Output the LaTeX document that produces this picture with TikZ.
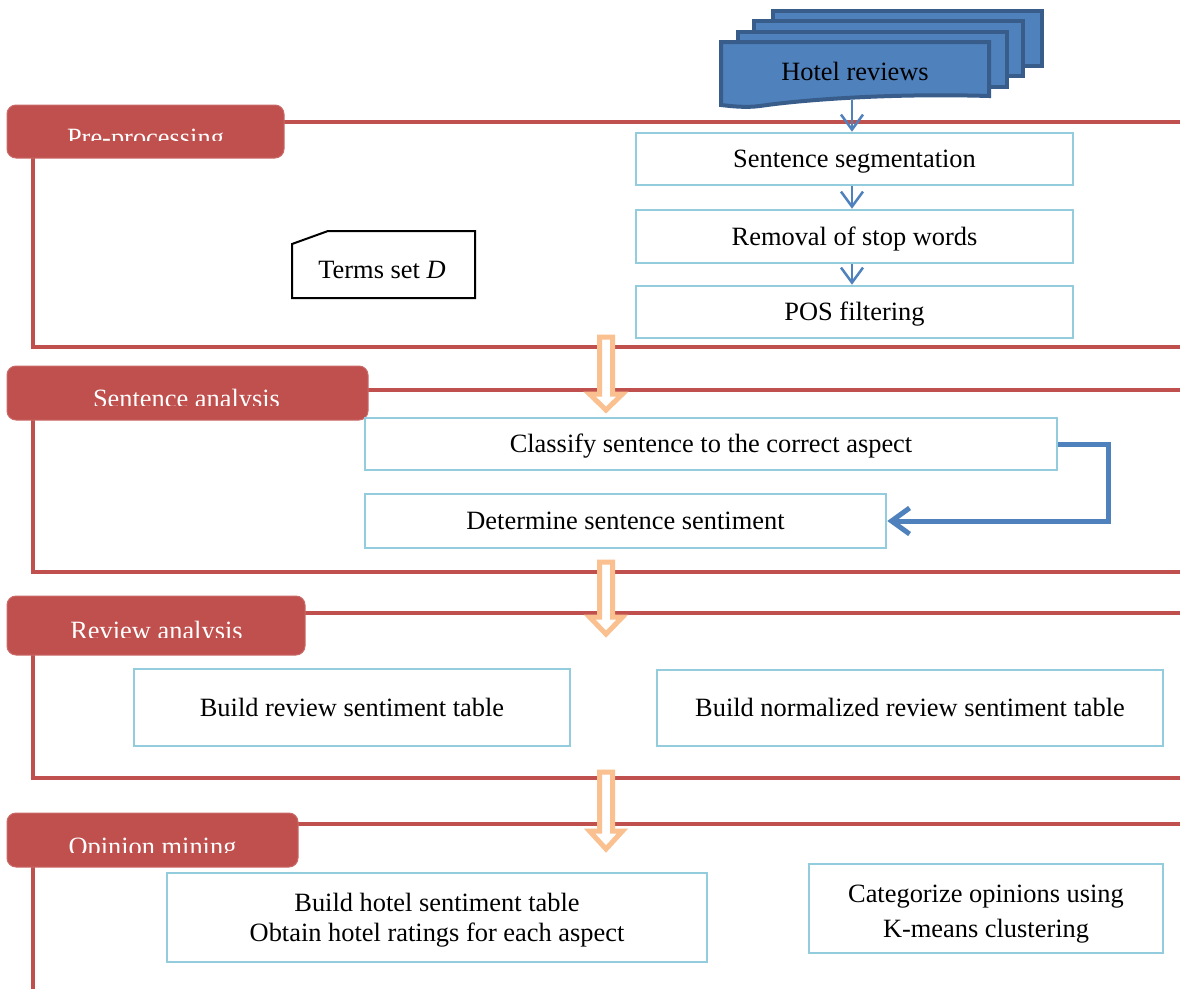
\documentclass[tikz,border=0pt]{standalone}
\usepackage{fontspec}
\setmainfont{Liberation Serif}
\usetikzlibrary{arrows.meta}
\definecolor{redc}{HTML}{C0504D}
\definecolor{bluefill}{HTML}{4F81BD}
\definecolor{blueline}{HTML}{385D8A}
\definecolor{boxline}{HTML}{93CDDD}
\definecolor{orangec}{HTML}{FAC090}
\tikzset{
  frame/.style={draw=redc, line width=4.5pt, miter limit=10},
  tab/.style={fill=redc, draw=redc!85!white, line width=1pt, rounded corners=9pt, inner sep=0pt},
  tabtext/.style={text=white, font=\fontsize{26.4}{30}\selectfont, inner sep=0pt},
  procbox/.style={draw=boxline, line width=2.6pt, fill=white, inner sep=0pt, align=center,
     font=\fontsize{26.4}{31}\selectfont},
  oneline/.style={text height=21pt, text depth=4pt},
  sheet/.style={fill=bluefill, draw=blueline, line width=4pt, line join=miter},
  barr/.style={draw=bluefill, line width=2.5pt, -{Straight Barb[length=15pt,width=22pt,line width=2.5pt]}},
  elbow/.style={draw=bluefill, line width=5pt, -{Straight Barb[length=18pt,width=26pt,line width=5pt]}},
  oarr/.style={draw=orangec, fill=white, line width=5pt, line join=miter},
}
\newcommand\orangeblock[3]{%
  \draw[oarr] (599.5,#1) -- (612.5,#1) -- (612.5,#2) -- (622.5,#2) -- (606,#3)
     -- (589.5,#2) -- (599.5,#2) -- cycle;}
\begin{document}
\begin{tikzpicture}[x=1pt,y=-1pt]
\useasboundingbox (0,0) rectangle (1180,988);
\fill[white] (0,0) rectangle (1180,988);

% ---------- red frames ----------
\draw[frame] (284,122) -- (1182,122);
\draw[frame] (33,158) -- (33,347) -- (1182,347);
\draw[frame] (368,390) -- (1182,390);
\draw[frame] (33,420) -- (33,572) -- (1182,572);
\draw[frame] (305,613) -- (1182,613);
\draw[frame] (33,655) -- (33,778) -- (1182,778);
\draw[frame] (298,824) -- (1182,824);
\draw[frame] (33,867) -- (33,990);

% ---------- tabs ----------
\node[tab, minimum width=277pt, minimum height=53pt] (t1) at (145.5,131.5) {};
\node[tab, minimum width=361pt, minimum height=54pt] (t2) at (187.5,393) {};
\node[tab, minimum width=298pt, minimum height=59pt] (t3) at (156,625.5) {};
\node[tab, minimum width=291pt, minimum height=54pt] (t4) at (152.5,840) {};
\begin{scope}
  \clip (7,100) rectangle (380,140);
  \node[tabtext, anchor=base] (t1l) at (145.5,146.3) {Pre-processing};
\end{scope}
\begin{scope}
  \clip (7,360) rectangle (380,405);
  \node[tabtext, anchor=base] (t2l) at (186.5,407.3) {Sentence analysis};
\end{scope}
\begin{scope}
  \clip (7,590) rectangle (380,637);
  \node[tabtext, anchor=base] (t3l) at (156.5,639.5) {Review analysis};
\end{scope}
\begin{scope}
  \clip (7,810) rectangle (380,852);
  \node[tabtext, anchor=base] (t4l) at (152.5,855.5) {Opinion mining};
\end{scope}

% ---------- hotel reviews stack ----------
\draw[sheet] (773,11) rectangle (1042,66);
\draw[sheet] (754,21) rectangle (1023,76);
\draw[sheet] (738,32) rectangle (1007,87);
\draw[sheet] (721,42) -- (989,42) -- (989,96)
   .. controls (890,93) and (800,100) .. (760,106)
   .. controls (745,108) and (730,106) .. (721,105) -- cycle;
\node[font=\fontsize{26.4}{30}\selectfont, inner sep=0pt] (rev) at (855,71.5) {Hotel reviews};
\coordinate (revbot) at (852,100);

% ---------- pre-processing boxes ----------
\node[procbox, oneline, minimum width=437pt, minimum height=52pt] (seg) at (854.5,159) {Sentence segmentation};
\node[procbox, oneline, minimum width=437pt, minimum height=53pt] (rem) at (854.5,236.5) {Removal of stop words};
\node[procbox, oneline, minimum width=437pt, minimum height=52pt] (pos) at (854.5,312) {POS filtering};

\draw[barr] (revbot) -- (revbot |- seg.north);
\draw[barr] (revbot |- seg.south) -- (revbot |- rem.north);
\draw[barr] (revbot |- rem.south) -- (revbot |- pos.north);

% terms set D
\draw[black, line width=2pt, line join=miter] (292,244) -- (328,231) -- (475,231) -- (475,298) -- (292,298) -- cycle;
\node[font=\fontsize{26.4}{30}\selectfont, inner sep=0pt, anchor=base] (terms) at (382,278.5) {Terms set \textit{D}};

% ---------- sentence analysis ----------
\node[procbox, oneline, minimum width=692pt, minimum height=52pt] (cls) at (711,444) {Classify sentence to the correct aspect};
\node[procbox, oneline, minimum width=521pt, minimum height=54pt] (det) at (625.5,521) {Determine sentence sentiment};
\draw[elbow] (cls.east) -- ++(50,0) |- (det.east);

% ---------- review analysis ----------
\node[procbox, oneline, minimum width=436pt, minimum height=77pt] (brt) at (352,707.5) {Build review sentiment table};
\node[procbox, oneline, minimum width=506pt, minimum height=76pt] (bnr) at (910,708) {Build normalized review sentiment table};

% ---------- opinion mining ----------
\node[procbox, minimum width=540pt, minimum height=89pt, font=\fontsize{26.4}{30}\selectfont] (bht) at (437,917.5)
  {\rule{0pt}{24pt}Build hotel sentiment table\\ Obtain hotel ratings for each aspect};
\node[procbox, minimum width=354pt, minimum height=89pt, font=\fontsize{26.4}{35}\selectfont] (cat) at (986,908.5)
  {\rule{0pt}{29.5pt}Categorize opinions using\\ K-means clustering};

% ---------- orange block arrows ----------
\orangeblock{337}{394}{410}
\orangeblock{562}{617}{634}
\orangeblock{772}{831}{849}
\end{tikzpicture}
\end{document}
